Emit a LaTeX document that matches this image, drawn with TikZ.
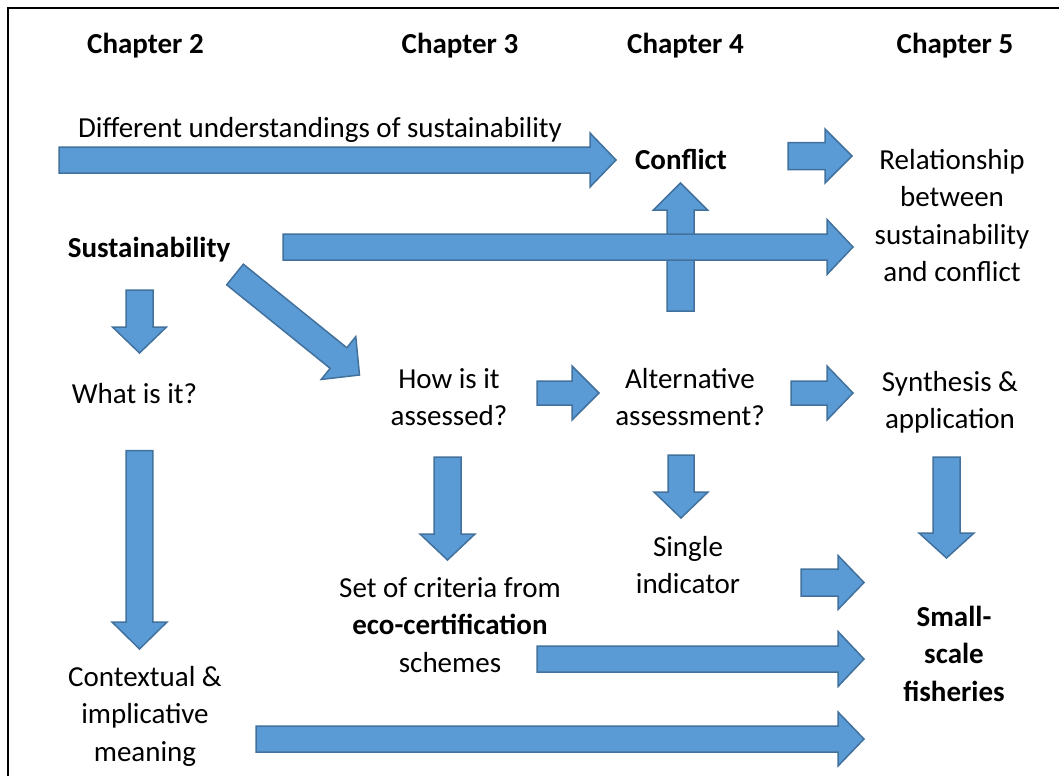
\documentclass[tikz,border=0pt]{standalone}
\usepackage{fontspec}
\setmainfont{Carlito}
\usetikzlibrary{calc}
\definecolor{arrowfill}{HTML}{5B9BD5}
\definecolor{arrowline}{HTML}{41719C}
\tikzset{
  blockarrow/.style={fill=arrowfill, draw=arrowline, line width=1.5pt, line join=miter},
  lbl/.style={font=\fontsize{29}{37.5}\selectfont, align=center, inner sep=0pt, anchor=base},
  blbl/.style={lbl, font=\fontsize{29}{37.5}\selectfont\bfseries},
  frameline/.style={draw=black, line width=2pt},
}
% #1 name, #2 start coordinate, #3 tip coordinate, #4 shaft half width, #5 head half width, #6 head length
\newcommand\blockarrow[6]{%
  \coordinate (#1-b) at ($(#3)!#6!(#2)$);
  \draw[blockarrow] ($(#2)!#4!90:(#3)$) -- ($(#1-b)!#4!-90:(#2)$) -- ($(#1-b)!#5!-90:(#2)$)
    -- (#3) -- ($(#1-b)!#5!90:(#2)$) -- ($(#1-b)!#4!90:(#2)$) -- ($(#2)!#4!-90:(#3)$) -- cycle;
}
\begin{document}
\begin{tikzpicture}[x=1pt,y=-1pt]
\useasboundingbox (0,0) rectangle (1059,776);
\draw[frameline] (8,776) -- (8,8) -- (1059,8);

% arrow end points
\coordinate (a1s) at (59,160);     \coordinate (a1t) at (616,160);
\coordinate (a2s) at (283,247);    \coordinate (a2t) at (853,247);
\coordinate (a3s) at (680.5,311);  \coordinate (a3t) at (680.5,183);
\coordinate (a4s) at (788,156);    \coordinate (a4t) at (852,156);
\coordinate (a5s) at (791,393);    \coordinate (a5t) at (853,393);
\coordinate (a6s) at (537,393);    \coordinate (a6t) at (599,393);
\coordinate (a7s) at (235,274.5);  \coordinate (a7t) at (359.5,375);
\coordinate (a8s) at (139.5,290);  \coordinate (a8t) at (139.5,353);
\coordinate (a9s) at (139.5,450.5);\coordinate (a9t) at (139.5,649);
\coordinate (a10s) at (447.5,457); \coordinate (a10t) at (447.5,560);
\coordinate (a11s) at (681,455);   \coordinate (a11t) at (681,518);
\coordinate (a12s) at (946.5,457); \coordinate (a12t) at (946.5,558);
\coordinate (a13s) at (801,582.5); \coordinate (a13t) at (864,582.5);
\coordinate (a14s) at (537,659);   \coordinate (a14t) at (864,659);
\coordinate (a15s) at (256,739);   \coordinate (a15t) at (864,739);

% arrows
\blockarrow{a1}{a1s}{a1t}{13pt}{27pt}{26pt}
\blockarrow{a3}{a3s}{a3t}{13.5pt}{27pt}{27pt}
\blockarrow{a2}{a2s}{a2t}{13pt}{27.5pt}{26pt}
\blockarrow{a4}{a4s}{a4t}{13.5pt}{27pt}{27pt}
\blockarrow{a5}{a5s}{a5t}{12pt}{27pt}{26pt}
\blockarrow{a6}{a6s}{a6t}{12pt}{27pt}{27pt}
\blockarrow{a7}{a7s}{a7t}{13.25pt}{27.5pt}{27pt}
\blockarrow{a8}{a8s}{a8t}{13.5pt}{27pt}{26pt}
\blockarrow{a9}{a9s}{a9t}{13.3pt}{27.5pt}{27pt}
\blockarrow{a10}{a10s}{a10t}{13.5pt}{27.5pt}{26pt}
\blockarrow{a11}{a11s}{a11t}{13pt}{27pt}{26pt}
\blockarrow{a12}{a12s}{a12t}{13.5pt}{27.5pt}{25pt}
\blockarrow{a13}{a13s}{a13t}{13.5pt}{27pt}{26pt}
\blockarrow{a14}{a14s}{a14t}{13pt}{27.5pt}{26pt}
\blockarrow{a15}{a15s}{a15t}{13pt}{27pt}{26pt}

% headings
\node[blbl] (ch2) at (145.5,53) {Chapter 2};
\node[blbl] (ch3) at (460,53) {Chapter 3};
\node[blbl] (ch4) at (685.5,53) {Chapter 4};
\node[blbl] (ch5) at (955,53) {Chapter 5};

% texts (anchor base = baseline of the last line)
\node[lbl] (diff) at (320,137) {Different understandings of sustainability};
\node[blbl] (conflict) at (681,169) {Conflict};
\node[lbl] (rel) at (952,281.5) {Relationship\\between\\sustainability\\and conflict};
\node[blbl] (sust) at (149,257) {Sustainability};
\node[lbl] (what) at (134.5,403) {What is it?};
\node[lbl] (how) at (449,425.5) {How is it\\assessed?};
\node[lbl] (alt) at (690,425.5) {Alternative\\assessment?};
\node[lbl] (synth) at (950,428.5) {Synthesis \&\\application};
\node[lbl] (single) at (688,593.5) {Single\\indicator};
\node[lbl] (set) at (450,672) {Set of criteria from\\\textbf{eco-certification}\\schemes};
\node[blbl] (ssf) at (954,701) {Small-\\scale\\fisheries};
\node[lbl] (ctx) at (145,761) {Contextual \&\\implicative\\meaning};
\end{tikzpicture}
\end{document}
